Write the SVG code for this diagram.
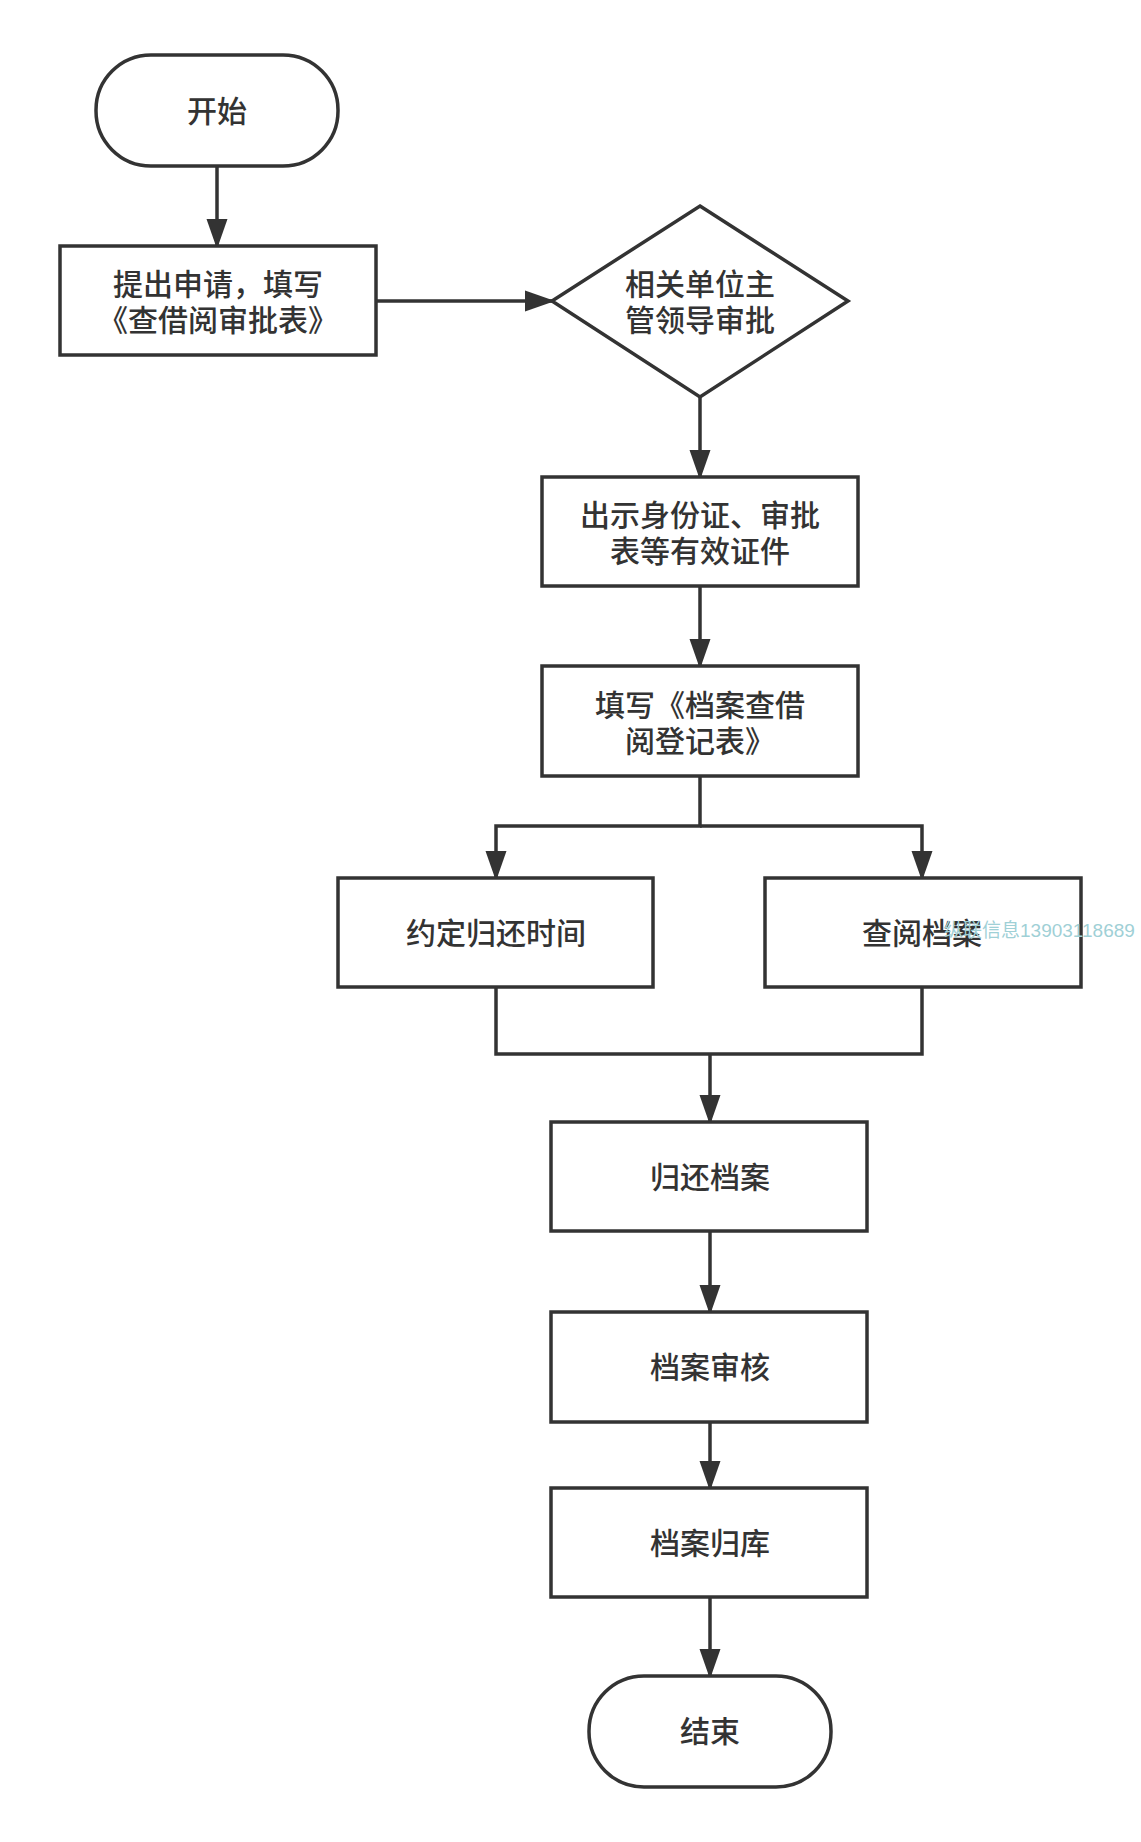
<svg xmlns="http://www.w3.org/2000/svg" width="1141" height="1842" viewBox="0 0 1141 1842">
<style>
.n{fill:#fff;stroke:#333;stroke-width:3.5}
.t{font-family:"Noto Sans CJK SC","Liberation Sans",sans-serif;font-size:30px;font-weight:500;fill:#333;text-anchor:middle}
.c{fill:none;stroke:#333;stroke-width:3.5}
</style>
<defs>
<marker id="b" viewBox="0 0 10 10" refX="9" refY="5" markerWidth="30" markerHeight="30" markerUnits="userSpaceOnUse" orient="auto"><path d="M0,1.5L10,5L0,8.5z" fill="#333"/></marker></defs>
<rect width="1141" height="1842" fill="#fff"/>
<g id="connectors">
<path class="c" d="M217,166V246" marker-end="url(#b)"/>
<path class="c" d="M376,301H552" marker-end="url(#b)"/>
<path class="c" d="M700,397V477" marker-end="url(#b)"/>
<path class="c" d="M700,586V666" marker-end="url(#b)"/>
<path class="c" d="M700,776V826H496V878" marker-end="url(#b)"/>
<path class="c" d="M700,826H922V878" marker-end="url(#b)"/>
<path class="c" d="M496,987V1054H922V987"/>
<path class="c" d="M710,1054V1122" marker-end="url(#b)"/>
<path class="c" d="M710,1231V1312" marker-end="url(#b)"/>
<path class="c" d="M710,1422V1488" marker-end="url(#b)"/>
<path class="c" d="M710,1597V1676" marker-end="url(#b)"/>
</g>
<g id="start"><rect class="n" x="96" y="55" width="242" height="111" rx="55"/><text class="t" x="217" y="122">开始</text></g>
<g id="apply"><rect class="n" x="60" y="246" width="316" height="109"/><text class="t" x="218" y="295">提出申请，填写</text><text class="t" x="218" y="331">《查借阅审批表》</text></g>
<g id="approve"><path class="n" d="M700,206L848,301L700,397L552,301z"/><text class="t" x="700" y="295">相关单位主</text><text class="t" x="700" y="331">管领导审批</text></g>
<g id="show"><rect class="n" x="542" y="477" width="316" height="109"/><text class="t" x="700" y="526">出示身份证、审批</text><text class="t" x="700" y="562">表等有效证件</text></g>
<g id="register"><rect class="n" x="542" y="666" width="316" height="110"/><text class="t" x="700" y="716">填写《档案查借</text><text class="t" x="700" y="752">阅登记表》</text></g>
<g id="time"><rect class="n" x="338" y="878" width="315" height="109"/><text class="t" x="496" y="944">约定归还时间</text></g>
<g id="read"><rect class="n" x="765" y="878" width="316" height="109"/><text class="t" x="922" y="944">查阅档案</text></g>
<g id="return"><rect class="n" x="551" y="1122" width="316" height="109"/><text class="t" x="710" y="1188">归还档案</text></g>
<g id="audit"><rect class="n" x="551" y="1312" width="316" height="110"/><text class="t" x="710" y="1378">档案审核</text></g>
<g id="store"><rect class="n" x="551" y="1488" width="316" height="109"/><text class="t" x="710" y="1554">档案归库</text></g>
<g id="end"><rect class="n" x="589" y="1676" width="242" height="111" rx="55"/><text class="t" x="710" y="1742">结束</text></g>
<text x="944" y="937" font-family="Liberation Sans,Noto Sans CJK SC,sans-serif" font-size="19" fill="#9fd0d6">纵联信息13903118689</text>
</svg>
